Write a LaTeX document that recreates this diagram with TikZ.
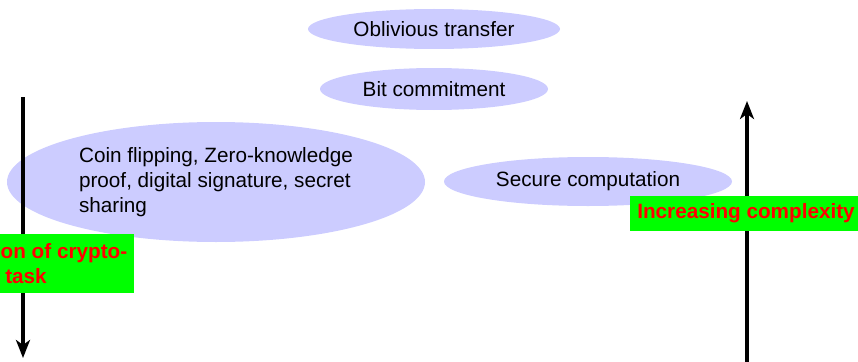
\documentclass[tikz,border=0pt]{standalone}
\usepackage{fontspec}
\setmainfont{Liberation Sans}
\usetikzlibrary{shapes.geometric,arrows.meta}
\tikzset{
  task/.style={ellipse, fill=blue!20, inner sep=0pt, font=\fontsize{20.7}{24.8}\selectfont},
  axis/.style={line width=3.3pt, -{Stealth[length=18pt, width=14pt, inset=5pt]}},
  axislabel/.style={fill=green, text=red, font=\fontsize{20.7}{24.8}\selectfont\bfseries, inner xsep=7pt, inner ysep=5pt, align=center}
}
\begin{document}
\begin{tikzpicture}[x=1pt, y=-1pt]
  \useasboundingbox (0,0) rectangle (858,361);
  % tasks
  \node[task, minimum width=252pt, minimum height=40pt] (ot) at (434,29) {Oblivious transfer};
  \node[task, minimum width=228pt, minimum height=42pt] (bc) at (434,89) {Bit commitment};
  \node[task, minimum width=418pt, minimum height=120pt, align=left] (cf) at (216,182)
    {Coin flipping, Zero-knowledge\\proof, digital signature, secret\\sharing};
  \node[task, minimum width=288pt, minimum height=49pt] (sc) at (588,181.5) {Secure computation};
  % axes
  \coordinate (ltop) at (23,97);
  \coordinate (lbot) at (23,358);
  \coordinate (rbot) at (747,362);
  \coordinate (rtop) at (747,101);
  \draw[axis] (ltop) -- (lbot);
  \draw[axis] (rbot) -- (rtop);
  \node[axislabel, minimum height=59pt] (ll) at (26,263.5) {Reduction of crypto-\\task};
  \node[axislabel, minimum height=35pt] (rl) at (746,213.5) {Increasing complexity};
\end{tikzpicture}
\end{document}
